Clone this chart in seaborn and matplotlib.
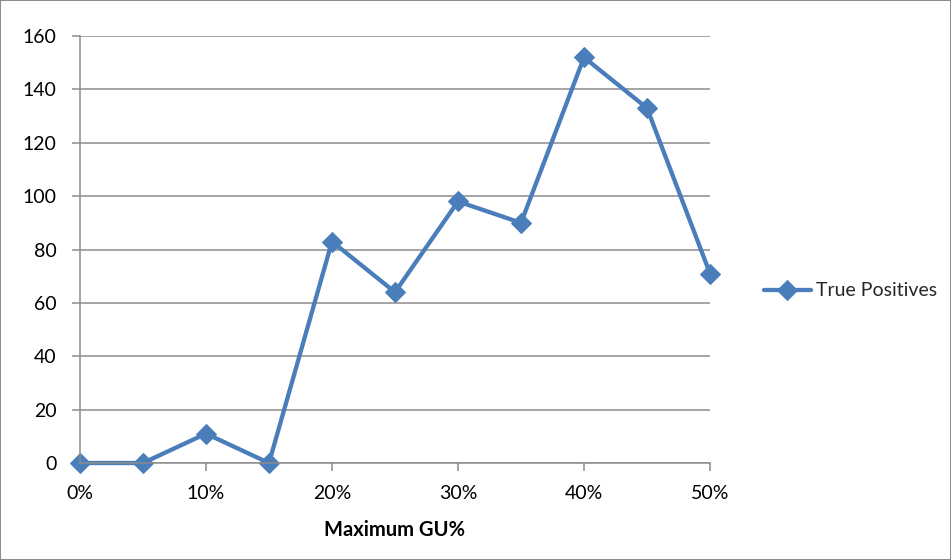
import matplotlib
matplotlib.use("Agg")
import matplotlib.pyplot as plt
import seaborn as sns
import pandas as pd
from matplotlib.ticker import PercentFormatter, MultipleLocator

# Maximum GU fraction and the matching true-positive counts
max_gu = [0.00, 0.05, 0.10, 0.15, 0.20, 0.25, 0.30, 0.35, 0.40, 0.45, 0.50]
true_positives = [0, 0, 11, 0, 83, 64, 98, 90, 152, 133, 71]
series_name = "True Positives"
x_label = "Maximum GU%"

df = pd.DataFrame({"max_gu": max_gu, "tp": true_positives, "series": series_name})

sns.set_theme(style="white")
plt.rcParams["font.family"] = ["Lato", "DejaVu Sans"]

fig = plt.figure(figsize=(9.51, 5.6), dpi=100, linewidth=1.2, edgecolor="#8c8c8c")
ax = fig.add_axes([0.0841, 0.1732, 0.7466 - 0.0841, 0.9357 - 0.1732])

line_color = "#4a7ebb"
sns.lineplot(data=df, x="max_gu", y="tp", hue="series", palette=[line_color],
             marker="D", markersize=10.5, markeredgecolor=line_color,
             linewidth=3.1, ax=ax)
for ln in ax.get_lines():
    ln.set_clip_on(False)

ax.set_xlim(0, 0.5)
ax.set_ylim(0, 160)
ax.xaxis.set_major_locator(MultipleLocator(0.1))
ax.xaxis.set_major_formatter(PercentFormatter(1.0, decimals=0))
ax.yaxis.set_major_locator(MultipleLocator(20))

ax.grid(axis="y", color="#8c8c8c", linewidth=1.1)
ax.grid(axis="x", visible=False)
ax.set_axisbelow(True)

for side in ("top", "right"):
    ax.spines[side].set_visible(False)
for side in ("left", "bottom"):
    ax.spines[side].set_color("#8c8c8c")
    ax.spines[side].set_linewidth(1.1)

ax.tick_params(axis="both", which="major", length=5.8, width=1.1, color="#8c8c8c",
               labelsize=14, labelcolor="black", direction="out",
               bottom=True, left=True)
ax.tick_params(axis="x", pad=10)
ax.tick_params(axis="y", pad=11)

ax.set_xlabel(x_label, fontsize=14.5, fontweight="bold", color="black", labelpad=13)
ax.set_ylabel("")

handles, labels = ax.get_legend_handles_labels()
ax.legend(handles, labels, loc="center left", bbox_to_anchor=(1.07, 0.403),
          frameon=False, fontsize=14, handlelength=2.4, borderpad=0, handletextpad=0.3)

fig.savefig("out.png", dpi=100, facecolor="white", edgecolor=fig.get_edgecolor())
